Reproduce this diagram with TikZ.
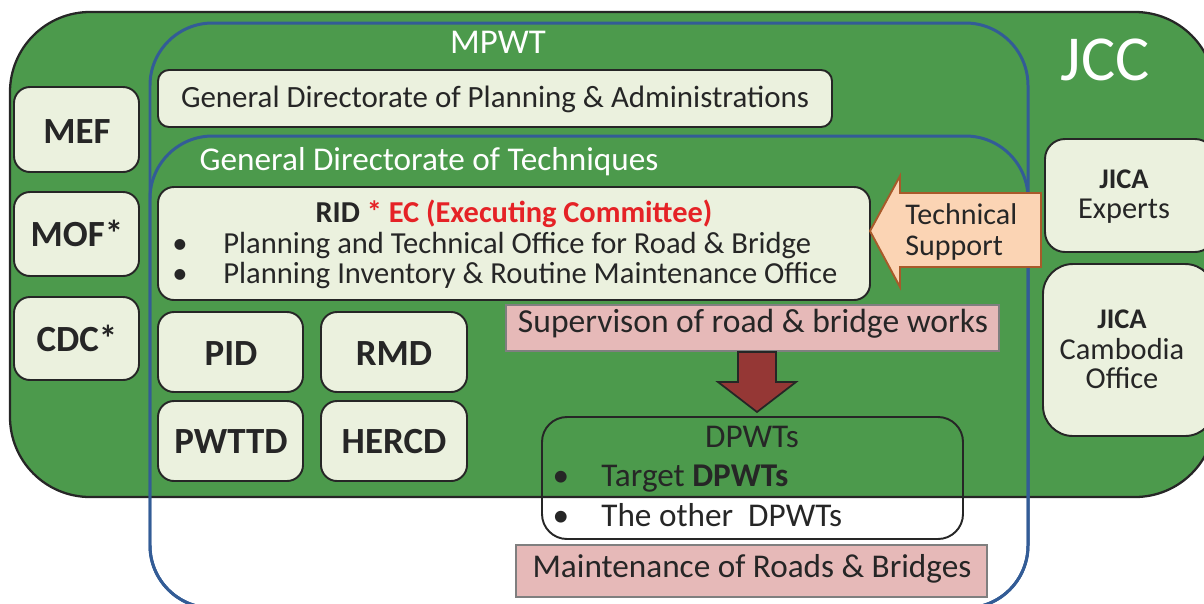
\documentclass[tikz,border=0pt]{standalone}
\usepackage{fontspec}
\setmainfont{Carlito}
\usetikzlibrary{fit}
\definecolor{jccgreen}{HTML}{4C9A4C}
\definecolor{mpwtblue}{HTML}{335C96}
\definecolor{boxfill}{HTML}{EBF1DE}
\definecolor{edge}{HTML}{262626}
\definecolor{ink}{HTML}{262626}
\definecolor{pinkfill}{HTML}{E6B9B8}
\definecolor{pinkedge}{HTML}{7F7F7F}
\definecolor{peach}{HTML}{FBD4B4}
\definecolor{peachedge}{HTML}{A85A2A}
\definecolor{arrowred}{HTML}{953735}
\definecolor{ecred}{HTML}{E52226}
\begin{document}
\begin{tikzpicture}[x=0.02cm,y=-0.02cm,
  area/.style={inner sep=0, outer sep=0},
  lbox/.style={area, draw=edge, fill=boxfill, line width=1.1pt, rounded corners=0.32cm},
  pbox/.style={area, draw=pinkedge, fill=pinkfill, line width=0.9pt},
  frame/.style={area, draw=mpwtblue, line width=1.7pt, rounded corners=1.25cm},
  lbl/.style={text=ink, inner sep=0, anchor=base},
  norm/.style={lbl, font=\fontsize{17.4}{20}\selectfont},
  mid/.style={lbl, font=\fontsize{17.3}{20}\selectfont},
  large/.style={lbl, font=\fontsize{18.9}{22}\selectfont},
  big/.style={lbl, font=\fontsize{21}{24}\selectfont\bfseries},
  white/.style={text=white}
]
\useasboundingbox (0,0) rectangle (1204,603);
\clip (0,0) rectangle (1204,603);

% JCC frame
\node[area, fit={(10,12)(1215,497)}, draw=edge, fill=jccgreen, line width=1.3pt, rounded corners=1.6cm] (jcc) {};
\node[lbl, white, font=\fontsize{36.5}{40}\selectfont] (jcct) at (1105,80) {JCC};

% MPWT and General Directorate of Techniques outlines
\node[frame, fit={(150,23)(1028,608)}] (mpwt) {};
\node[frame, fit={(150,136)(1028,608)}] (gdt) {};
\node[lbl, white, font=\fontsize{19.8}{22}\selectfont] (mpwtt) at (498,53) {MPWT};
\node[large, white] (gdtt) at (429,170) {General Directorate of Techniques};

% General Directorate of Planning & Administrations
\node[lbox, fit={(158,70)(832,127)}, rounded corners=0.22cm] (gdpa) {};
\node[lbl, font=\fontsize{17.6}{20}\selectfont] (gdpat) at (495,107) {General Directorate of Planning \& Administrations};

% RID box
\node[lbox, fit={(158,187)(870,300)}] (rid) {};
\node[lbl, font=\fontsize{17.3}{20}\selectfont] (ridt) at (514,222) {\bfseries RID \textcolor{ecred}{* EC (Executing Committee)}};
\node[norm] (b1) at (180,253) {•};
\node[norm, anchor=base west] (rid1) at (223,253) {Planning and Technical Office for Road \& Bridge};
\node[norm] (b2) at (180,283) {•};
\node[norm, anchor=base west] (rid2) at (223,283) {Planning Inventory \& Routine Maintenance Office};

% Ministries on the left
\node[lbox, fit={(14,87)(139,172)}] (mef) {};
\node[big] (meft) at (77,143) {MEF};
\node[lbox, fit={(14,192)(139,276)}] (mof) {};
\node[big] (moft) at (77,246) {MOF*};
\node[lbox, fit={(14,297)(139,380)}] (cdc) {};
\node[big] (cdct) at (77,351) {CDC*};

% Departments
\node[lbox, fit={(158,312)(303,392)}] (pid) {};
\node[big] (pidt) at (231,365) {PID};
\node[lbox, fit={(321,312)(467,392)}] (rmd) {};
\node[big] (rmdt) at (394,365) {RMD};
\node[lbox, fit={(158,401)(303,481)}] (pwttd) {};
\node[big] (pwttdt) at (231,453) {PWTTD};
\node[lbox, fit={(321,401)(467,481)}] (hercd) {};
\node[big] (hercdt) at (394,453) {HERCD};

% JICA
\node[lbox, fit={(1045,139)(1215,252)}, rounded corners=0.4cm] (jexp) {};
\node[lbl, font=\fontsize{16.2}{20}\selectfont\bfseries] (jexp1) at (1124,188) {JICA};
\node[mid] (jexp2) at (1124,218) {Experts};
\node[lbox, fit={(1043,264)(1215,436)}, rounded corners=0.6cm] (jco) {};
\node[lbl, font=\fontsize{16.2}{20}\selectfont\bfseries] (jco1) at (1122,328) {JICA};
\node[mid] (jco2) at (1122,359) {Cambodia};
\node[mid] (jco3) at (1122,388) {Office};

% Technical support arrow
\draw[fill=peach, draw=peachedge, line width=1.1pt, line join=miter]
  (870,231) -- (900,176) -- (900,193) -- (1041,193) -- (1041,267) -- (900,267) -- (900,287) -- cycle;
\node[lbl, font=\fontsize{17.1}{20}\selectfont, anchor=base west] (ts1) at (905,224) {Technical};
\node[lbl, font=\fontsize{17.1}{20}\selectfont, anchor=base west] (ts2) at (905,255) {Support};

% Supervision
\node[pbox, fit={(506,305)(999,351)}] (sup) {};
\node[lbl, font=\fontsize{19.1}{22}\selectfont] (supt) at (753,332) {Supervison of road \& bridge works};

% Down arrow
\draw[fill=arrowred, draw=edge, line width=1pt, line join=miter]
  (738,352) -- (776,352) -- (776,382) -- (796,382) -- (757,412) -- (718,382) -- (738,382) -- cycle;

% DPWTs
\node[area, fit={(542,417)(963,539)}, draw=edge, line width=1.1pt, rounded corners=0.5cm] (dpwt) {};
\node[large] (dpwtt) at (752,447) {DPWTs};
\node[large] (b3) at (561,486) {•};
\node[large, anchor=base west] (dp1) at (601,486) {Target \textbf{DPWTs}};
\node[large] (b4) at (561,526) {•};
\node[large, anchor=base west] (dp2) at (601,526) {The other\ \ DPWTs};

% Maintenance
\node[pbox, fit={(516,545)(987,597)}] (mnt) {};
\node[large] (mntt) at (752,577) {Maintenance of Roads \& Bridges};
\end{tikzpicture}
\end{document}
